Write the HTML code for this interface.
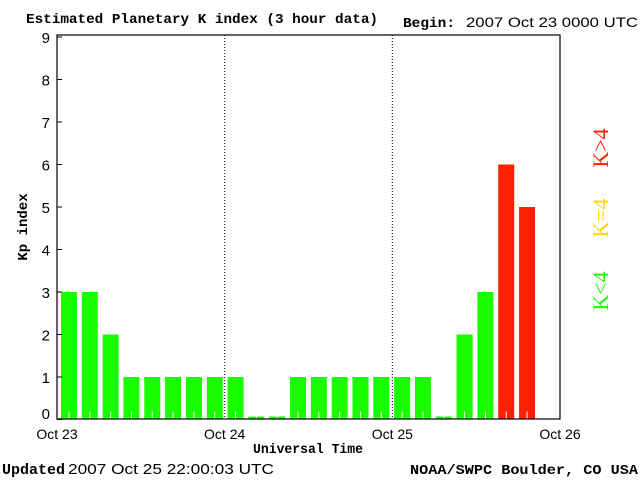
<!DOCTYPE html>
<html><head><meta charset="utf-8"><style>
body{margin:0;background:#fff}
svg text{font-family:"Liberation Serif",serif}
.m{font-family:"Liberation Mono",monospace;font-weight:bold}
.s{font-family:"Liberation Sans",sans-serif}
</style></head><body>
<svg width="640" height="480" viewBox="0 0 640 480">
<text x="26" y="23" font-size="14" class="m" textLength="352" lengthAdjust="spacingAndGlyphs">Estimated Planetary K index (3 hour data)</text>
<text x="403" y="27" font-size="14" class="m" textLength="52" lengthAdjust="spacingAndGlyphs">Begin:</text>
<text x="466" y="27" font-size="14" class="s" textLength="172" lengthAdjust="spacingAndGlyphs">2007 Oct 23 0000 UTC</text>
<g id="bars"></g>
<g id="grid"></g>
<rect x="57" y="35" width="503" height="384" fill="none" stroke="#000" stroke-width="1.2"/>
<g id="yaxis"></g>
<g id="xaxis"></g>
<text x="253" y="453" font-size="14" class="m" textLength="110" lengthAdjust="spacingAndGlyphs">Universal Time</text>
<text transform="translate(27,227) rotate(-90)" font-size="14" class="m" text-anchor="middle">Kp index</text>
<text transform="translate(608,148) rotate(-90)" font-size="22" fill="#ff2000" text-anchor="middle">K&gt;4</text>
<text transform="translate(608,218) rotate(-90)" font-size="22" fill="#ffd700" text-anchor="middle">K=4</text>
<text transform="translate(608,291) rotate(-90)" font-size="22" fill="#1aff00" text-anchor="middle">K&lt;4</text>
<text x="2" y="474" font-size="15" class="m" textLength="63" lengthAdjust="spacingAndGlyphs">Updated</text>
<text x="68" y="474" font-size="15" class="s" textLength="206" lengthAdjust="spacingAndGlyphs">2007 Oct 25 22:00:03 UTC</text>
<text x="410" y="474" font-size="14" class="m" textLength="228" lengthAdjust="spacingAndGlyphs">NOAA/SWPC Boulder, CO USA</text>
</svg>
<script>
const kpValues=[3,3,2,1,1,1,1,1,1,0,0,1,1,1,1,1,1,1,0,2,3,6,5];
const dayLabels=["Oct 23","Oct 24","Oct 25","Oct 26"];
const yTicks=[0,1,2,3,4,5,6,7,8,9];
const NS="http://www.w3.org/2000/svg";
const X0=57,X1=560,Y0=419.5,Y9=37;
const SLOT=20.82;
const xs=i=>X0+SLOT*i;
const ys=v=>Y0-(Y0-Y9)*v/9;
function mk(t,a,p){const e=document.createElementNS(NS,t);for(const k in a)e.setAttribute(k,a[k]);p.appendChild(e);return e;}
const bars=document.getElementById('bars');
kpValues.forEach((v,i)=>{
  const x=xs(i)+4,w=16;
  const top=v===0?Y0-3:ys(v);
  const col=v>4?'#ff2000':(v===4?'#ffd700':'#1aff00');
  const r=mk('rect',{x:x,y:top,width:w,height:Y0-top,fill:col},bars);
  
  
  const t=mk('line',{x1:x+w/2,x2:x+w/2,y1:Y0,y2:Y0-8,stroke:'#fff','stroke-width':1},bars);
  
  
});
const grid=document.getElementById('grid');
const xa=document.getElementById('xaxis');
dayLabels.forEach((d,i)=>{
  const x=X0+(X1-X0)*i/3;
  if(i>0&&i<3){const g=mk('line',{x1:x,x2:x,y1:35,y2:419,stroke:'#000','stroke-dasharray':'1,2'},grid);
  
  }
  const t=mk('text',{x:x,y:439,'font-size':14,'text-anchor':'middle','class':'s'},xa);
  t.textContent=d;
  
  
});
const ya=document.getElementById('yaxis');
yTicks.forEach(v=>{
  const y=ys(v);
  const l=mk('line',{x1:X0,x2:X0+5,y1:y,y2:y,stroke:'#000'},ya);
  
  
  const t=mk('text',{x:50,y:Math.min(y+6,419),'font-size':15,'text-anchor':'end','class':'s'},ya);
  t.textContent=v;
  
  
});
</script>
</body></html>
